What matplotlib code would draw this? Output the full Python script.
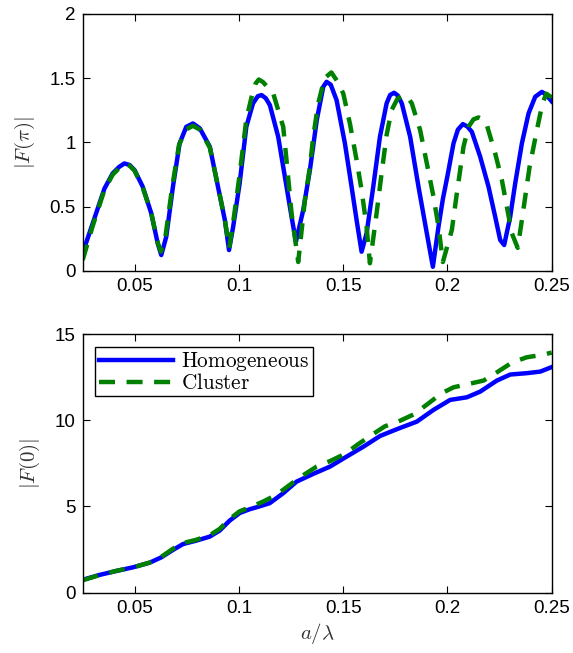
import matplotlib
matplotlib.use("Agg")
import matplotlib.pyplot as plt
from matplotlib.ticker import FuncFormatter

plt.rcParams['mathtext.fontset'] = 'cm'
plt.rcParams['font.family'] = ['Liberation Sans', 'DejaVu Sans']

# |F(pi)| versus a/lambda
x_pi_hom = [0.025, 0.0298, 0.0354, 0.0394, 0.0425, 0.0450, 0.0475, 0.0499, 0.0538, 0.0579,
            0.0610, 0.0627, 0.0651, 0.0683, 0.0715, 0.0747, 0.0779, 0.0812, 0.0860, 0.0899,
            0.0932, 0.0952, 0.0972, 0.1003, 0.1035, 0.1067, 0.1090, 0.1108, 0.1128, 0.1148,
            0.1188, 0.1228, 0.1252, 0.1273, 0.1308, 0.1340, 0.1373, 0.1404, 0.1420, 0.1440,
            0.1468, 0.1508, 0.1540, 0.1564, 0.1588, 0.1612, 0.1644, 0.1676, 0.1708, 0.1725,
            0.1744, 0.1762, 0.1781, 0.1821, 0.1861, 0.1901, 0.1930, 0.1957, 0.1978, 0.2000,
            0.2029, 0.2050, 0.2074, 0.2095, 0.2117, 0.2157, 0.2197, 0.2229, 0.2253, 0.2272,
            0.2301, 0.2325, 0.2357, 0.2389, 0.2421, 0.2453, 0.2475, 0.2500]
y_pi_hom = [0.14, 0.37, 0.64, 0.76, 0.81, 0.837, 0.825, 0.785, 0.656, 0.449,
            0.215, 0.124, 0.267, 0.656, 0.993, 1.122, 1.148, 1.11, 0.967, 0.656,
            0.397, 0.163, 0.345, 0.682, 1.122, 1.304, 1.36, 1.369, 1.345, 1.291,
            1.044, 0.656, 0.422, 0.228, 0.474, 0.785, 1.174, 1.433, 1.472, 1.45,
            1.33, 0.993, 0.656, 0.397, 0.15, 0.293, 0.656, 1.044, 1.304, 1.37,
            1.387, 1.365, 1.304, 1.044, 0.656, 0.293, 0.033, 0.345, 0.56, 0.74,
            0.993, 1.10, 1.143, 1.125, 1.083, 0.889, 0.656, 0.422, 0.241, 0.202,
            0.422, 0.682, 0.993, 1.226, 1.356, 1.394, 1.37, 1.32]

x_pi_clu = [0.025, 0.0298, 0.0354, 0.0394, 0.0425, 0.0450, 0.0475, 0.0499, 0.0538, 0.0579,
            0.0610, 0.0625, 0.0648, 0.0680, 0.0712, 0.0745, 0.0779, 0.0812, 0.0860, 0.0899,
            0.0932, 0.0953, 0.0972, 0.1003, 0.1035, 0.1064, 0.1080, 0.1095, 0.1115, 0.1164,
            0.1212, 0.1228, 0.1252, 0.1284, 0.1300, 0.1316, 0.1340, 0.1356, 0.1380, 0.1410,
            0.1443, 0.1470, 0.1500, 0.1532, 0.1564, 0.1588, 0.1612, 0.1628, 0.1660, 0.1684,
            0.1708, 0.1732, 0.1760, 0.1789, 0.1810, 0.1829, 0.1869, 0.1901, 0.1933, 0.1957,
            0.1978, 0.2021, 0.2045, 0.2077, 0.2101, 0.2125, 0.2149, 0.2170, 0.2189, 0.2229,
            0.2261, 0.2285, 0.2309, 0.2337, 0.2357, 0.2394, 0.2429, 0.2455, 0.2474, 0.2500]
y_pi_clu = [0.085, 0.35, 0.63, 0.75, 0.80, 0.83, 0.82, 0.78, 0.65, 0.45,
            0.22, 0.15, 0.28, 0.66, 0.98, 1.10, 1.13, 1.10, 0.96, 0.66,
            0.40, 0.18, 0.38, 0.75, 1.18, 1.38, 1.46, 1.49, 1.47, 1.382,
            1.122, 0.86, 0.45, 0.07, 0.31, 0.55, 0.81, 1.044, 1.304, 1.50,
            1.545, 1.48, 1.382, 1.148, 0.863, 0.63, 0.345, 0.06, 0.449, 0.76,
            1.058, 1.252, 1.34, 1.369, 1.35, 1.304, 1.096, 0.837, 0.578, 0.345,
            0.07, 0.319, 0.604, 0.967, 1.122, 1.18, 1.195, 1.18, 1.135, 0.915,
            0.708, 0.50, 0.293, 0.18, 0.397, 0.811, 1.096, 1.30, 1.38, 1.35]

# |F(0)| versus a/lambda
x_0_hom = [0.025, 0.033, 0.0411, 0.0490, 0.0571, 0.0627, 0.0683, 0.0731, 0.0795, 0.0859,
           0.0907, 0.0955, 0.1003, 0.1051, 0.1083, 0.1147, 0.1212, 0.1276, 0.1356, 0.1436,
           0.1516, 0.1597, 0.1677, 0.1757, 0.1853, 0.1933, 0.2013, 0.2093, 0.2157, 0.2237,
           0.2301, 0.2381, 0.2445, 0.2500]
y_0_hom = [0.75, 1.03, 1.26, 1.47, 1.74, 2.05, 2.48, 2.82, 3.02, 3.25,
           3.60, 4.18, 4.62, 4.84, 4.95, 5.19, 5.77, 6.44, 6.89, 7.31,
           7.89, 8.47, 9.09, 9.48, 9.92, 10.6, 11.18, 11.33, 11.66, 12.3,
           12.65, 12.73, 12.82, 13.08]

x_0_clu = [0.025, 0.033, 0.0411, 0.0490, 0.0571, 0.0627, 0.0683, 0.0731, 0.0795, 0.0859,
           0.0907, 0.0955, 0.1003, 0.1051, 0.1115, 0.1180, 0.1243, 0.1300, 0.1372, 0.1440,
           0.1508, 0.1570, 0.1637, 0.1700, 0.1774, 0.1840, 0.1909, 0.1970, 0.2029, 0.2100,
           0.2173, 0.2240, 0.2309, 0.2380, 0.2453, 0.2500]
y_0_clu = [0.72, 1.02, 1.27, 1.46, 1.75, 2.08, 2.55, 2.88, 3.07, 3.33,
           3.70, 4.28, 4.72, 4.95, 5.28, 5.68, 6.25, 6.75, 7.31, 7.65,
           8.05, 8.60, 9.15, 9.65, 9.98, 10.35, 10.98, 11.55, 11.91, 12.10,
           12.30, 12.80, 13.34, 13.65, 13.79, 13.92]

x_ticks = [0.05, 0.1, 0.15, 0.2, 0.25]
y_ticks_pi = [0, 0.5, 1, 1.5, 2]
y_ticks_0 = [0, 5, 10, 15]

BLUE = (0, 0, 1)
GREEN = (0, 0.5, 0)
LW = 3.2
DASH = (3.6, 2.6)

fig = plt.figure(figsize=(5.73, 6.53), dpi=100)
ax1 = fig.add_axes([0.1443, 0.585, 0.8185, 0.3936])
ax2 = fig.add_axes([0.1443, 0.0923, 0.8185, 0.3962])

ax1.plot(x_pi_hom, y_pi_hom, color=BLUE, lw=LW, solid_joinstyle='round')
ax1.plot(x_pi_clu, y_pi_clu, color=GREEN, lw=LW, linestyle=(0, DASH))

ax2.plot(x_0_hom, y_0_hom, color=BLUE, lw=LW, label=r'$\mathrm{Homogeneous}\ $',
         solid_joinstyle='round')
ax2.plot(x_0_clu, y_0_clu, color=GREEN, lw=LW, linestyle=(0, DASH),
         label=r'$\mathrm{Cluster}$')

fmt = FuncFormatter(lambda v, p: ('%g' % v))
for ax, yt, ylim in ((ax1, y_ticks_pi, (0, 2)), (ax2, y_ticks_0, (0, 15))):
    ax.set_xlim(0.025, 0.25)
    ax.set_ylim(*ylim)
    ax.set_xticks(x_ticks)
    ax.set_yticks(yt)
    ax.xaxis.set_major_formatter(fmt)
    ax.yaxis.set_major_formatter(fmt)
    ax.tick_params(direction='in', length=5, width=0.8, top=True, right=True,
                   labelsize=13.5, pad=5)
    for s in ax.spines.values():
        s.set_linewidth(1.0)

ax1.set_ylabel(r'$|F(\pi)|$', fontsize=15, color='#333333', labelpad=9)
ax2.set_ylabel(r'$|F(0)|$', fontsize=15, color='#333333', labelpad=9)
ax2.set_xlabel(r'$a/\lambda$', fontsize=15, color='#333333', labelpad=3)

leg = ax2.legend(loc='upper left', fontsize=15.3, handlelength=3.5, borderpad=0.15,
                 labelspacing=0.0, handletextpad=0.4, borderaxespad=0.6,
                 fancybox=False, framealpha=1)
leg.get_frame().set_edgecolor('black')
leg.get_frame().set_linewidth(1.0)

fig.savefig('out.png', dpi=100)
